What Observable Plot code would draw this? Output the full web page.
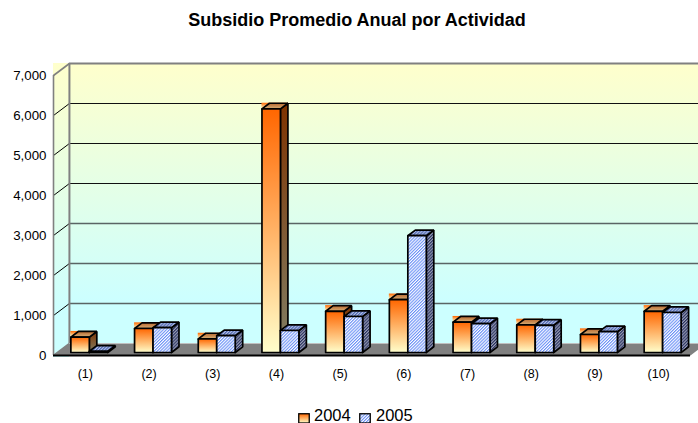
<!DOCTYPE html>
<html><head><meta charset="utf-8">
<script src="https://cdn.jsdelivr.net/npm/d3@7"></script>
<script src="https://cdn.jsdelivr.net/npm/@observablehq/plot@0.6"></script>
<style>
html,body{margin:0;padding:0;background:#fff;width:698px;height:423px;overflow:hidden;font-family:"Liberation Sans",Arial,sans-serif;color:#000}
#title{position:absolute;left:157px;top:9px;width:400px;text-align:center;white-space:nowrap;font-weight:bold;font-size:18px;line-height:22px}
#chart{position:absolute;left:0;top:40px}
#legend{position:absolute;left:0;top:407px;width:698px;height:16px;font-size:16.5px;line-height:17px}
#legend span{position:absolute;top:0}
#legend svg{position:absolute;top:6px}
</style></head><body>
<div id="title">Subsidio Promedio Anual por Actividad</div>
<div id="chart"></div>
<div id="legend"></div>
<script>
const categories = ["(1)","(2)","(3)","(4)","(5)","(6)","(7)","(8)","(9)","(10)"];
const values2004 = [385,600,340,6090,1030,1320,760,690,450,1030];
const values2005 = [30,620,420,550,900,2920,720,680,520,1000];
const yTicks = [0,1000,2000,3000,4000,5000,6000,7000];
const seriesNames = ["2004","2005"];

const depthX = 0.25, depthY = 300, barW = 0.29, frontF = 0.25, backF = 0.72;
const P = (x, v, f) => ({x: x + depthX * f, y: v + depthY * f});
function poly(rows, build) {
  return rows.flatMap((r, k) => build(r).map(p => ({...p, k})));
}
function bars(vals, off) {
  const rows = vals.map((v, i) => ({x0: i + 0.5 + off, x1: i + 0.5 + off + barW, v}));
  return {
    rows,
    front: poly(rows, r => [P(r.x0,0,frontF),P(r.x1,0,frontF),P(r.x1,r.v,frontF),P(r.x0,r.v,frontF),P(r.x0,0,frontF)]),
    side: poly(rows, r => [P(r.x1,0,frontF),P(r.x1,0,backF),P(r.x1,r.v,backF),P(r.x1,r.v,frontF),P(r.x1,0,frontF)]),
    top: poly(rows, r => [P(r.x0,r.v,frontF),P(r.x1,r.v,frontF),P(r.x1,r.v,backF),P(r.x0,r.v,backF),P(r.x0,r.v,frontF)]),
    box: rows.map(r => ({x1: P(r.x0,0,frontF).x, x2: P(r.x1,0,backF).x, y1: P(0,r.v,frontF).y, y2: P(0,r.v,backF).y}))
  };
}
const a = bars(values2004, -barW), b = bars(values2005, 0);

const polyMark = (data, fill, sw = 1.7) => Plot.line(data, {x:"x", y:"y", z:"k", fill, stroke:"#000", strokeWidth:sw, strokeLinejoin:"miter"});

function defs() {
  const svg = d3.create("svg:g");
  const d = svg.append("defs");
  const grad = (id, stops) => {
    const g = d.append("linearGradient").attr("id", id).attr("x1",0).attr("x2",0).attr("y1",0).attr("y2",1);
    stops.forEach(([o,c]) => g.append("stop").attr("offset",o).attr("stop-color",c));
  };
  grad("wall", [[0,"#ffffcc"],[0.85,"#ccffff"],[1,"#ccffff"]]);
  grad("orange", [[0,"#ff6600"],[1,"#ffffcc"]]);
  grad("orangeSide", [[0,"#7f3300"],[1,"#808066"]]);
  grad("orangeTop", [[0,"#b8682f"],[1,"#d8b078"]]);
  const pat = (id, bg, fg) => {
    const p = d.append("pattern").attr("id", id).attr("width",2.2).attr("height",2.2)
      .attr("patternUnits","userSpaceOnUse").attr("patternTransform","rotate(-45)");
    p.append("rect").attr("width",2.2).attr("height",2.2).attr("fill",bg);
    p.append("rect").attr("width",2.2).attr("height",1.1).attr("fill",fg);
  };
  pat("blue", "#ffffff", "#6a90f6");
  pat("blueSide", "#9aa0b4", "#283060");
  pat("blueTop", "#b4c0e4", "#4a64b0");
  return svg.node();
}

const wallTop = 7000 + depthY;
const plot = Plot.plot({
  width: 698, height: 365,
  marginLeft: 53, marginRight: 8, marginTop: 35, marginBottom: 50,
  x: {domain: [0, 10]},
  y: {domain: [0, 7000]},
  style: {fontFamily: '"Liberation Sans", Arial, sans-serif', background: "transparent", color: "#000"},
  marks: [
    defs,
    Plot.rect([{}], {x1: 0, x2: depthX, y1: -50, y2: wallTop, fill: "url(#wall)"}),
    Plot.rect([{}], {x1: depthX, x2: 10 + depthX, y1: depthY, y2: wallTop, fill: "url(#wall)"}),
    Plot.ruleY([1000,2000,3000], {y: d => d + depthY, x1: depthX, x2: 10 + depthX, stroke: "#5a6464", strokeWidth: 1.5}),
    Plot.ruleY([4000,5000,6000], {y: d => d + depthY, x1: depthX, x2: 10 + depthX, stroke: "#111", strokeWidth: 1.1}),
    Plot.ruleY([wallTop], {x1: depthX, x2: 10 + depthX, stroke: "#808080", strokeWidth: 2}),
    Plot.link(yTicks.slice(1, -1), {x1: 0, x2: depthX, y1: d => d, y2: d => d + depthY, stroke: "#000", strokeWidth: 1}),
    Plot.link([0, 7000], {x1: 0, x2: depthX, y1: d => d, y2: d => d + depthY, stroke: "#808080", strokeWidth: 1.6}),
    Plot.ruleX([0], {y1: 0, y2: 7000, stroke: "#808080", strokeWidth: 1.6}),
    Plot.ruleX([depthX], {y1: depthY, y2: wallTop, stroke: "#808080", strokeWidth: 2}),
    Plot.line([[0,0],[depthX,depthY],[10+depthX,depthY],[10,0],[0,0]], {x: d => d[0], y: d => d[1], fill: "#808080", stroke: "none"}),
    Plot.ruleY([0], {x1: 0, x2: 10, stroke: "#000", strokeWidth: 1.8}),
    Plot.rect(a.box, {x1:"x1", x2:"x2", y1:"y1", y2:"y2", fill:"url(#orange)"}),
    polyMark(a.side, "url(#orangeSide)"),
    polyMark(a.top, "url(#orangeTop)"),
    polyMark(a.front, "url(#orange)"),
    polyMark(b.side, "url(#blueSide)"),
    polyMark(b.top, "url(#blueTop)"),
    polyMark(b.front, "url(#blue)"),
    Plot.axisY(yTicks, {anchor: "left", tickSize: 0, tickPadding: 7, tickFormat: d => d3.format(",")(d), fontSize: 13.3, label: null}),
    Plot.axisX(categories.map((c, i) => i + 0.5), {anchor: "bottom", tickSize: 0, tickPadding: 14, tickFormat: d => categories[Math.floor(d)], fontSize: 12.5, label: null})
  ]
});
document.getElementById("chart").appendChild(plot);

const legend = d3.select("#legend");
const lx = [[298, 314, "url(#orange)"], [359, 376, "url(#blue)"]];
lx.forEach(([sx, tx, fill], i) => {
  const s = legend.append("svg").attr("width",12).attr("height",10).style("left",sx+"px");
  s.append("rect").attr("x",0.75).attr("y",0.75).attr("width",10.5).attr("height",9.25).attr("fill",fill).attr("stroke","#000").attr("stroke-width",1.3);
  legend.append("span").style("left",tx+"px").text(seriesNames[i]);
});
</script>
</body></html>
